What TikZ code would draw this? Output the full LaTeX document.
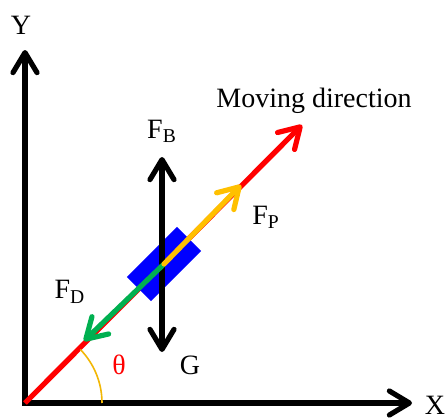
\documentclass[tikz,border=0pt]{standalone}
\usepackage{fontspec}
\setmainfont{Liberation Serif}
\usetikzlibrary{arrows.meta,positioning}
\definecolor{movc}{HTML}{FF0000}
\definecolor{dragc}{HTML}{00B050}
\definecolor{propc}{HTML}{FFC000}
\definecolor{bodyc}{HTML}{0000FF}
\definecolor{anglec}{HTML}{F2B705}
\tikzset{
  ar/.style={-{Straight Barb[length=10pt,width=12pt,round]},line width=2.6pt,line cap=round},
  dar/.style={{Straight Barb[length=10pt,width=12pt,round]}-{Straight Barb[length=10pt,width=12pt,round]},line width=2.6pt},
  lbl/.style={font=\fontsize{14}{16}\selectfont,inner sep=0pt}
}

\begin{document}
\begin{tikzpicture}[x=0.5pt,y=0.5pt]
\useasboundingbox (0,0) rectangle (445,419);
% points
\coordinate (O) at (25,16);
\coordinate (xend) at (412,16);
\coordinate (yend) at (25,369);
\coordinate (mtip) at (302,294);
\coordinate (C) at (164,155);
\coordinate (ptip) at (241,234);
\coordinate (dtip) at (84,78);
\coordinate (btop) at (162,262);
\coordinate (gbot) at (162,67);
% axes
\draw[dar,line join=miter,line cap=butt] (yend) -- (O) -- (xend);
\node[lbl] (ylab) at (21,394) {Y};
\node[lbl] (xlab) at (435,14) {X};
% moving direction
\draw[ar,movc,line cap=butt] (O) -- (mtip);
\node[lbl] (mlab) at (314,318) {Moving direction};
% body
\node[fill=bodyc,minimum width=35.5pt,minimum height=17pt,inner sep=0pt,rotate=45] (blk) at (C) {};
% forces
\draw[dar,black] (gbot) -- (btop);
\draw[ar,dragc] (C) -- (dtip);
\draw[ar,propc] (C) -- (ptip);
\node[lbl,above=7pt of btop] (fb) {F\textsubscript{B}};
\node[lbl] (fp) at (266,202) {F\textsubscript{P}};
\node[lbl] (fd) at (70,127) {F\textsubscript{D}};
\node[lbl] (g) at (190,54) {G};
% angle
\draw[anglec,line width=0.8pt] (O) ++(0:77) arc[start angle=0,end angle=44,radius=77];
\node[lbl,movc] (th) at (119,54) {θ};
\end{tikzpicture}
\end{document}
